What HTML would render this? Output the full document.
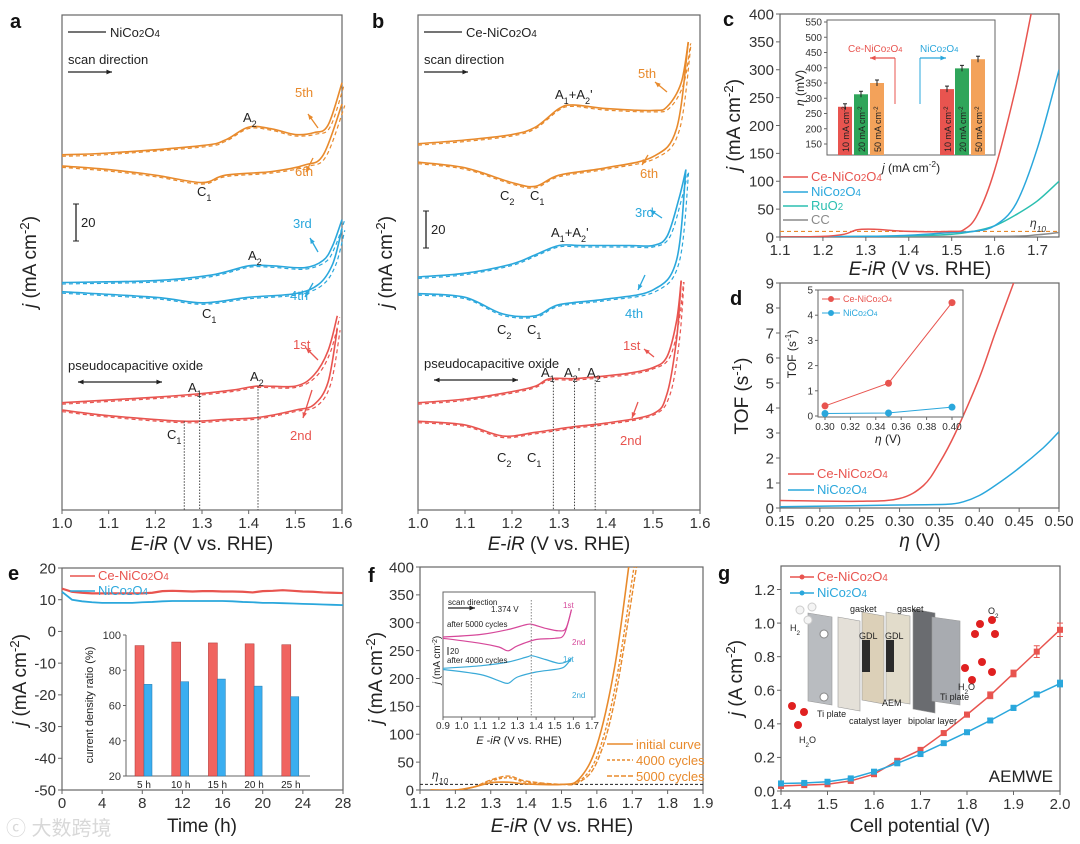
<!DOCTYPE html>
<html><head><meta charset="utf-8"><style>
html,body{margin:0;padding:0;background:#fff;}
svg{display:block;font-family:"Liberation Sans","Noto Sans CJK SC",sans-serif;}
</style></head><body>
<svg id="fig" width="1080" height="844" viewBox="0 0 1080 844" xmlns="http://www.w3.org/2000/svg"></svg>
<script>
// ---------- DATA ----------
const aOrFx=[1.0,1.1,1.3,1.35,1.4,1.45,1.5,1.54,1.57,1.6], aOrFy=[192,193,197,200,207,206,203,204,208,231];
const aOrRx=[1.0,1.1,1.2,1.3,1.35,1.45,1.52,1.56,1.6], aOrRy=[186,184,181,177,181,183,186.5,192,219.5];
const aBlFx=[1.0,1.2,1.32,1.4,1.45,1.52,1.56,1.58,1.6], aBlFy=[123,124,127,132,132,131,135,143,157];
const aBlRx=[1.0,1.2,1.3,1.4,1.5,1.55,1.58,1.6], aBlRy=[118,115,112,115,117,122,133,152];
const aRdFx=[1.0,1.2,1.3,1.37,1.42,1.5,1.54,1.57,1.59], aRdFy=[58,61,63,65,67,67,73,86,105];
const aRdRx=[1.0,1.1,1.26,1.35,1.42,1.5,1.54,1.57,1.59], aRdRy=[54,51,48,49,50,54,57,69,98];
const bOrFx=[1.0,1.1,1.2,1.25,1.3,1.33,1.4,1.5,1.53,1.56,1.575], bOrFy=[198,200,203,207,217,219,217,216,218,231,253];
const bOrRx=[1.0,1.1,1.2,1.25,1.3,1.4,1.5,1.55,1.575], bOrRy=[188,185,177,175,181,185,191,206,253];
const bBlFx=[1.0,1.1,1.2,1.25,1.3,1.35,1.45,1.5,1.53,1.555,1.57], bBlFy=[126,128,133,138,143,143,143,143,148,168,184];
const bBlRx=[1.0,1.1,1.18,1.25,1.3,1.4,1.5,1.55,1.57], bBlRy=[117,115,106,105,111,114,119,135,184];
const bRdFx=[1.0,1.1,1.2,1.25,1.28,1.33,1.38,1.45,1.5,1.53,1.55,1.56], bRdFy=[58,60,64,67,71,71,72,74,77,83,102,124];
const bRdRx=[1.0,1.1,1.18,1.25,1.33,1.4,1.5,1.53,1.55,1.56], bRdRy=[48,46,40,42,45,47,52,63,92,124];
const cCeX=[1.1,1.2,1.25,1.28,1.32,1.4,1.5,1.53,1.56,1.6,1.65,1.685], cCeY=[0,1,5,13,14,10,10,14,40,120,270,400];
const cNiX=[1.1,1.3,1.4,1.5,1.55,1.6,1.65,1.7,1.75], cNiY=[0,1,3,8,10,20,60,160,300];
const cRuX=[1.1,1.4,1.5,1.55,1.6,1.65,1.7,1.75], cRuY=[0,2,5,10,20,40,65,100];
const cCCX=[1.1,1.6,1.7,1.75], cCCY=[0,1,4,8];
const cEta10=10;
const cBarCe=[272,313,350], cBarNi=[330,398,428];
const cBarLabels=["10 mA cm-2","20 mA cm-2","50 mA cm-2"];
const dCeX=[0.15,0.25,0.3,0.33,0.35,0.37,0.4,0.42,0.443], dCeY=[0.3,0.27,0.38,0.9,1.8,3.0,5.2,7.0,9];
const dNiX=[0.15,0.3,0.36,0.38,0.4,0.42,0.45,0.48,0.5], dNiY=[0.05,0.12,0.15,0.25,0.5,0.9,1.6,2.4,3.05];
const dInX=[0.30,0.35,0.40], dInCe=[0.4,1.3,4.5], dInNi=[0.1,0.12,0.35];
const eRed=[13.5,12.5,12.2,12,12,12,12,12,12,12.2,12.7,12.8,12.7,12.6,12.7,12.7,12.6,12.6,12.5,12.3,12.7,12.8,13,12.8,12.6,12.5,12.3,12.2,12.1];
const eBlue=[12.5,10,9.5,9.2,9,9,9,9,9.2,9.3,9.5,9.6,9.6,9.6,9.6,9.6,9.6,9.5,9.3,9.2,9,9,8.9,8.8,8.7,8.6,8.5,8.4,8.3];
const eCats=["5 h","10 h","15 h","20 h","25 h"];
const eRatioCe=[94,96,95.5,95,94.5], eRatioNi=[72,73.5,75,71,65];
const fInitX=[1.13,1.2,1.25,1.3,1.35,1.4,1.5,1.55,1.6,1.65,1.69], fInitY=[0,0,5,13,14,11,10,20,80,220,400];
const f4kX=[1.13,1.2,1.25,1.3,1.35,1.4,1.5,1.55,1.6,1.65,1.705], f4kY=[0,0,5,16,22,14,10,16,60,180,400];
const f5kX=[1.13,1.2,1.25,1.3,1.35,1.4,1.5,1.55,1.6,1.65,1.712], f5kY=[0,0,5,18,25,16,10,14,50,160,400];
const fInX=[0.9,1.1,1.25,1.35,1.38,1.45,1.52,1.56,1.59];
const fPkF=[64,66,70,74,74,71,69,71,86], fBlF=[39,41,44,48,49,46,43,44,47];
const fInRX=[0.9,1.1,1.2,1.25,1.3,1.4,1.5,1.55,1.59];
const fPkR=[63,59,56,53,57,62,63,66,86], fBlR=[38,34,29,27,32,36,38,40,47];
const gX=[1.4,1.45,1.5,1.55,1.6,1.65,1.7,1.75,1.8,1.85,1.9,1.95,2.0];
const gCe=[0.03,0.035,0.04,0.06,0.10,0.18,0.245,0.345,0.455,0.57,0.70,0.83,0.96];
const gNi=[0.045,0.048,0.055,0.075,0.115,0.165,0.22,0.285,0.35,0.42,0.495,0.575,0.64];
const gCeErr=[0.005,0.005,0.005,0.008,0.01,0.01,0.012,0.012,0.015,0.02,0.02,0.035,0.04];
const gNiErr=[0.005,0.005,0.005,0.006,0.008,0.008,0.01,0.01,0.01,0.012,0.015,0.015,0.02];

// ---------- HELPERS ----------
const NS="http://www.w3.org/2000/svg";
const svg=document.getElementById('fig');
const RED="#e8544f", BLUE="#2aa7dc", ORG="#e88a2c", TEAL="#2bbfb0", GRY="#8a8a8a";
function mk(tag,attrs,parent){const e=document.createElementNS(NS,tag);for(const k in attrs)e.setAttribute(k,attrs[k]);(parent||svg).appendChild(e);return e;}
function T(parent,x,y,html,size,color,anchor,extra){const t=mk('text',Object.assign({x:x,y:y,'font-size':size||13,fill:color||'#222','text-anchor':anchor||'start'},extra||{}),parent);t.innerHTML=html;return t;}
function smooth(pts){if(pts.length<2)return'';let d='M'+pts[0][0].toFixed(1)+','+pts[0][1].toFixed(1);
 for(let i=0;i<pts.length-1;i++){const p0=pts[i-1]||pts[i],p1=pts[i],p2=pts[i+1],p3=pts[i+2]||p2;
 const c1=[p1[0]+(p2[0]-p0[0])/6,p1[1]+(p2[1]-p0[1])/6],c2=[p2[0]-(p3[0]-p1[0])/6,p2[1]-(p3[1]-p1[1])/6];
 d+='C'+c1[0].toFixed(1)+','+c1[1].toFixed(1)+' '+c2[0].toFixed(1)+','+c2[1].toFixed(1)+' '+p2[0].toFixed(1)+','+p2[1].toFixed(1);}return d;}
function lin(d0,d1,r0,r1){return v=>r0+(v-d0)/(d1-d0)*(r1-r0);}
function axes(g,o){
 const sx=lin(o.xd[0],o.xd[1],o.l,o.r), sy=lin(o.yd[0],o.yd[1],o.b,o.t);
 const fs=o.fs||15;
 const bx=mk('rect',{x:o.l,y:o.t,width:o.r-o.l,height:o.b-o.t,fill:'none',stroke:'#666','stroke-width':1.2},g);
 
 (o.xt||[]).forEach(v=>{const x=sx(v);mk('line',{x1:x,x2:x,y1:o.b,y2:o.b+4,stroke:'#666'},g);
   const t=T(g,x,o.b+fs+3,o.xfmt?o.xfmt(v):v,fs,'#333','middle');});
 (o.yt||[]).forEach(v=>{const y=sy(v);mk('line',{x1:o.l,x2:o.l-4,y1:y,y2:y,stroke:'#666'},g);
   const t=T(g,o.l-6,y+fs*0.35,o.yfmt?o.yfmt(v):v,fs,'#333','end');});
 return {sx,sy};}
function curve(g,sc,xs,ys,color,w,dash){const p=mk('path',{d:smooth(xs.map((x,i)=>[sc.sx(x),sc.sy(ys[i])])),fill:'none',stroke:color,'stroke-width':w||1.5},g);if(dash)p.setAttribute('stroke-dasharray',dash);return p;}
function shifted(ys,dy){return ys.map(v=>v+dy);}
function grp(name){const g=mk('g',{});return g;}
const chem=s=>s.replace(/(\d)/g,'<tspan font-size="75%">$1</tspan>');
const sup=s=>'<tspan baseline-shift="super" font-size="70%">'+s+'</tspan>';
const sub=s=>'<tspan baseline-shift="sub" font-size="70%">'+s+'</tspan>';
const EIR='<tspan font-style="italic">E</tspan>-<tspan font-style="italic">iR</tspan> (V vs. RHE)';
const JAX='<tspan font-style="italic">j</tspan> (mA cm'+sup('-2')+')';
function ylab(g,x,y,html,size){const t=T(g,x,y,html,size||19,'#222','middle',{transform:'rotate(-90 '+x+' '+y+')'});return t;}
function xlab(g,x,y,html,size){const t=T(g,x,y,html,size||19,'#222','middle');return t;}
function plabel(x,y,s){const t=T(svg,x,y,s,20,'#111','start',{'font-weight':'bold'});}
function arrowLine(g,x1,y1,x2,y2,c,both){mk('line',{x1,y1,x2,y2,stroke:c,'stroke-width':1.3},g);
 const head=(xa,ya,xb,yb)=>{const a=Math.atan2(yb-ya,xb-xa),L=6;mk('path',{d:`M${xb},${yb}L${xb-L*Math.cos(a-0.4)},${yb-L*Math.sin(a-0.4)}L${xb-L*Math.cos(a+0.4)},${yb-L*Math.sin(a+0.4)}Z`,fill:c},g);};
 head(x1,y1,x2,y2);if(both)head(x2,y2,x1,y1);}

// ---------- PANEL A & B ----------
function cvPanel(name,L,R,sets,info){
 const g=grp(name);
 const sc=axes(g,{l:L,r:R,t:15,b:510,xd:[1.0,1.6],yd:[0,267.6],xt:[1.0,1.1,1.2,1.3,1.4,1.5,1.6],xfmt:v=>v.toFixed(1)});
 sets.forEach(s=>{const c1=curve(g,sc,s.fx,s.fy,s.c,1.6);
   const c2=curve(g,sc,s.rx,s.ry,s.c,1.6);
   const d1=curve(g,sc,s.fx.map((x,i)=>i>=s.fx.length-3?x+0.005:x),shifted(s.fy,-0.8),s.c,1.2,'4,3');
   const d2=curve(g,sc,s.rx.map((x,i)=>i>=s.rx.length-3?x+0.006:x),shifted(s.ry,-0.8),s.c,1.2,'4,3');});
 xlab(g,(L+R)/2,550,EIR,19);ylab(g,L-26,262,JAX,19);
 mk('line',{x1:L+6,x2:L+44,y1:32,y2:32,stroke:'#222','stroke-width':1.3},g);
 const lg=T(g,L+48,37,chem(info.title),13,'#222');
 const sd=T(g,L+6,64,'scan direction',13,'#222');
 arrowLine(g,L+6,72,L+50,72,'#222');
 const sbx=info.sb;mk('line',{x1:sbx,x2:sbx,y1:info.sbt,y2:info.sbt+37,stroke:'#222','stroke-width':1.3},g);
 mk('line',{x1:sbx-3,x2:sbx+3,y1:info.sbt,y2:info.sbt,stroke:'#222'},g);mk('line',{x1:sbx-3,x2:sbx+3,y1:info.sbt+37,y2:info.sbt+37,stroke:'#222'},g);
 const sbl=T(g,sbx+5,info.sbt+23,'20',13,'#222');
 const pc=T(g,L+6,info.pcy,'pseudocapacitive oxide',13,'#222');
 arrowLine(g,L+16,info.pcy+12,L+100,info.pcy+12,'#222',true);
 info.labels.forEach(l=>{const t=T(g,l[0],l[1],l[2],13,l[3]||'#222');});
 info.arrows.forEach(a=>arrowLine(g,a[0],a[1],a[2],a[3],a[4]));
 info.vlines.forEach(v=>{mk('line',{x1:sc.sx(v[0]),x2:sc.sx(v[0]),y1:sc.sy(v[1]),y2:510,stroke:'#444','stroke-width':1,'stroke-dasharray':'1.5,1.5'},g);});
}
const A1s='A'+sub('1'),A2s='A'+sub('2'),C1s='C'+sub('1'),C2s='C'+sub('2');
cvPanel('panel-a-cv-nico2o4',62,342,[
 {n:'cycle-5-6',c:ORG,fx:aOrFx,fy:aOrFy,rx:aOrRx,ry:aOrRy},
 {n:'cycle-3-4',c:BLUE,fx:aBlFx,fy:aBlFy,rx:aBlRx,ry:aBlRy},
 {n:'cycle-1-2',c:RED,fx:aRdFx,fy:aRdFy,rx:aRdRx,ry:aRdRy}],
 {title:'NiCo2O4',sb:76,sbt:204,pcy:370,
  labels:[[295,97,'5th',ORG],[295,176,'6th',ORG],[293,228,'3rd',BLUE],[290,300,'4th',BLUE],[293,349,'1st',RED],[290,440,'2nd',RED],
   [243,122,A2s],[197,196,C1s],[248,260,A2s],[202,318,C1s],[188,392,A1s],[250,381,A2s],[167,439,C1s]],
  arrows:[[318,128,308,114,ORG],[313,158,306,172,ORG],[318,252,310,238,BLUE],[313,283,305,297,BLUE],[318,360,306,348,RED],[312,390,303,418,RED]],
  vlines:[[1.262,48],[1.295,63],[1.42,67]]});
cvPanel('panel-b-cv-ce-nico2o4',418,700,[
 {n:'cycle-5-6',c:ORG,fx:bOrFx,fy:bOrFy,rx:bOrRx,ry:bOrRy},
 {n:'cycle-3-4',c:BLUE,fx:bBlFx,fy:bBlFy,rx:bBlRx,ry:bBlRy},
 {n:'cycle-1-2',c:RED,fx:bRdFx,fy:bRdFy,rx:bRdRx,ry:bRdRy}],
 {title:'Ce-NiCo2O4',sb:426,sbt:211,pcy:368,
  labels:[[638,78,'5th',ORG],[640,178,'6th',ORG],[635,217,'3rd',BLUE],[625,318,'4th',BLUE],[623,350,'1st',RED],[620,445,'2nd',RED],
   [555,99,A1s+'+'+A2s+"'"],[500,200,C2s],[530,200,C1s],[551,237,A1s+'+'+A2s+"'"],[497,334,C2s],[527,334,C1s],
   [541,377,A1s],[564,377,A2s+"'"],[587,377,A2s],[497,462,C2s],[527,462,C1s]],
  arrows:[[667,92,655,82,ORG],[648,155,642,165,ORG],[662,218,650,210,BLUE],[645,275,638,290,BLUE],[654,357,644,349,RED],[638,402,632,418,RED]],
  vlines:[[1.288,71],[1.333,71],[1.377,72]]});

// ---------- PANEL C ----------
(function(){
 const g=grp('panel-c-lsv');
 const sc=axes(g,{l:780,r:1059,t:14,b:237,xd:[1.1,1.75],yd:[0,400],xt:[1.1,1.2,1.3,1.4,1.5,1.6,1.7],yt:[0,50,100,150,200,250,300,350,400],xfmt:v=>v.toFixed(1)});
 const cp=mk('clipPath',{id:'cclipR'},g);mk('rect',{x:780,y:14,width:279,height:223},cp);
 const cg=mk('g',{'clip-path':'url(#cclipR)'},g);
 const e=mk('line',{x1:780,x2:1059,y1:sc.sy(cEta10),y2:sc.sy(cEta10),stroke:ORG,'stroke-dasharray':'4,3','stroke-width':1.2},cg);
 [[cCCX,cCCY,GRY,'cc-curve'],[cRuX,cRuY,TEAL,'ruo2-curve'],[cNiX,cNiY,BLUE,'nico2o4-curve'],[cCeX,cCeY,RED,'ce-nico2o4-curve']].forEach(s=>{const p=curve(cg,sc,s[0],s[1],s[2],1.5);});
 T(g,1030,227,'η'+sub('10'),12,'#333','start',{'font-style':'italic'});
 xlab(g,920,275,EIR,19);ylab(g,740,125,JAX,19);
 [['Ce-NiCo2O4',RED,181],['NiCo2O4',BLUE,196],['RuO2',TEAL,210],['CC',GRY,224]].forEach(l=>{mk('line',{x1:783,x2:808,y1:l[2]-4,y2:l[2]-4,stroke:l[1],'stroke-width':1.5},g);
   const t=T(g,811,l[2],chem(l[0]),13,l[1]);});
 const ig=grp('panel-c-inset-bar-chart');
 const isy=lin(150,550,144,22);
 mk('rect',{x:827,y:20,width:168,height:135,fill:'#fff',stroke:'#666'},ig);
 [150,200,250,300,350,400,450,500,550].forEach(v=>{mk('line',{x1:827,x2:824,y1:isy(v),y2:isy(v),stroke:'#666'},ig);const t=T(ig,822,isy(v)+3.5,v,10,'#333','end');});
 const cols=[RED,'#2fa55a','#f3a25a'];
 const cx=[845,861,877], nx=[947,962,978];
 function bars(vals,xs,nm){vals.forEach((v,i)=>{const b=mk('rect',{x:xs[i]-7,y:isy(v),width:14,height:155-isy(v),fill:cols[i]},ig);
   mk('line',{x1:xs[i],x2:xs[i],y1:isy(v)-3,y2:isy(v)+3,stroke:'#222'},ig);mk('line',{x1:xs[i]-2,x2:xs[i]+2,y1:isy(v)-3,y2:isy(v)-3,stroke:'#222'},ig);
   T(ig,xs[i]+4,152,cBarLabels[i].replace('-2',sup('-2')),9,'#222','start',{transform:'rotate(-90 '+(xs[i]+4)+' 152)'});});}
 bars(cBarCe,cx,'ce-nico2o4');bars(cBarNi,nx,'nico2o4');
 T(ig,848,52,chem('Ce-NiCo2O4'),10,RED);T(ig,920,52,chem('NiCo2O4'),10,BLUE);
 arrowLine(ig,895,58,870,58,RED);mk('line',{x1:895,x2:895,y1:58,y2:104,stroke:RED},ig);
 arrowLine(ig,920,58,946,58,BLUE);mk('line',{x1:920,x2:920,y1:58,y2:104,stroke:BLUE},ig);
 ylab(ig,804,88,'<tspan font-style="italic">η</tspan> (mV)',12);
 T(ig,911,172,'<tspan font-style="italic">j</tspan> (mA cm'+sup('-2')+')',12,'#222','middle');
})();

// ---------- PANEL D ----------
(function(){
 const g=grp('panel-d-tof');
 const sc=axes(g,{l:780,r:1059,t:283,b:508,xd:[0.15,0.50],yd:[0,9],xt:[0.15,0.2,0.25,0.3,0.35,0.4,0.45,0.5],yt:[0,1,2,3,4,5,6,7,8,9],xfmt:v=>v.toFixed(2)});
 const cp=mk('clipPath',{id:'dclip'},g);mk('rect',{x:780,y:283,width:279,height:225},cp);
 const cg=mk('g',{'clip-path':'url(#dclip)'},g);
 const p1=curve(cg,sc,dCeX,dCeY,RED,1.5);
 const p2=curve(cg,sc,dNiX,dNiY,BLUE,1.5);
 xlab(g,920,547,'<tspan font-style="italic">η</tspan> (V)',19);ylab(g,748,396,'TOF (s'+sup('-1')+')',19);
 [['Ce-NiCo2O4',RED,478],['NiCo2O4',BLUE,494]].forEach(l=>{mk('line',{x1:788,x2:814,y1:l[2]-4,y2:l[2]-4,stroke:l[1],'stroke-width':1.5},g);const t=T(g,817,l[2],chem(l[0]),13,l[1]);});
 const ig=grp('panel-d-inset');
 const isx=lin(0.30,0.40,825,952), isy=lin(0,5,416,290);
 mk('rect',{x:818,y:290,width:145,height:127,fill:'#fff',stroke:'#666'},ig);
 [0,1,2,3,4,5].forEach(v=>{mk('line',{x1:818,x2:815,y1:isy(v),y2:isy(v),stroke:'#666'},ig);T(ig,813,isy(v)+3.5,v,10,'#333','end');});
 [0.30,0.32,0.34,0.36,0.38,0.40].forEach(v=>{mk('line',{x1:isx(v),x2:isx(v),y1:417,y2:420,stroke:'#666'},ig);T(ig,isx(v),430,v.toFixed(2),10,'#333','middle');});
 T(ig,888,443,'<tspan font-style="italic">η</tspan> (V)',12,'#222','middle');ylab(ig,796,354,'TOF (s'+sup('-1')+')',12);
 [[dInCe,RED,'ce'],[dInNi,BLUE,'ni']].forEach(s=>{mk('polyline',{points:dInX.map((x,i)=>isx(x)+','+isy(s[0][i])).join(' '),fill:'none',stroke:s[1],'stroke-width':1},ig);
   dInX.forEach((x,i)=>{const c=mk('circle',{cx:isx(x),cy:isy(s[0][i]),r:3.5,fill:s[1]},ig);});});
 [['Ce-NiCo2O4',RED,302],['NiCo2O4',BLUE,316]].forEach(l=>{mk('line',{x1:822,x2:840,y1:l[2]-3,y2:l[2]-3,stroke:l[1]},ig);mk('circle',{cx:831,cy:l[2]-3,r:3,fill:l[1]},ig);T(ig,843,l[2],chem(l[0]),9,l[1]);});
})();

// ---------- PANEL E ----------
(function(){
 const g=grp('panel-e-stability');
 const sc=axes(g,{l:62,r:343,t:568,b:790,xd:[0,28],yd:[-50,20],xt:[0,4,8,12,16,20,24,28],yt:[-50,-40,-30,-20,-10,0,10,20]});
 const tx=eRed.map((v,i)=>i);
 const pr=mk('polyline',{points:tx.map((t,i)=>sc.sx(t)+','+sc.sy(eRed[i])).join(' '),fill:'none',stroke:RED,'stroke-width':2.2},g);
 const pb=mk('polyline',{points:tx.map((t,i)=>sc.sx(t)+','+sc.sy(eBlue[i])).join(' '),fill:'none',stroke:BLUE,'stroke-width':1.8},g);
 xlab(g,202,832,'Time (h)',19);ylab(g,26,680,JAX,19);
 [['Ce-NiCo2O4',RED,580],['NiCo2O4',BLUE,595]].forEach(l=>{mk('line',{x1:70,x2:95,y1:l[2]-4,y2:l[2]-4,stroke:l[1],'stroke-width':1.5},g);const t=T(g,98,l[2],chem(l[0]),13,l[1]);});
 const ig=grp('panel-e-inset-ratio');
 const isy=lin(20,100,776,635);
 mk('line',{x1:126,x2:126,y1:635,y2:776,stroke:'#666'},ig);mk('line',{x1:126,x2:310,y1:776,y2:776,stroke:'#666'},ig);
 [20,40,60,80,100].forEach(v=>{mk('line',{x1:126,x2:123,y1:isy(v),y2:isy(v),stroke:'#666'},ig);T(ig,121,isy(v)+4,v,11,'#333','end');});
 eCats.forEach((c,i)=>{const gx=144+i*36.7;
  const r=mk('rect',{x:gx-9,y:isy(eRatioCe[i]),width:9,height:776-isy(eRatioCe[i]),fill:'#f06460',stroke:'#a33','stroke-width':0.5},ig);
  const b=mk('rect',{x:gx,y:isy(eRatioNi[i]),width:8,height:776-isy(eRatioNi[i]),fill:'#3aaef0',stroke:'#27a','stroke-width':0.5},ig);
  T(ig,gx,788,c,10,'#222','middle');});
 ylab(ig,93,705,'current density ratio (%)',11);
 const wm=T(svg,6,835,'ⓒ 大数跨境',20,'#d8d8d8');
})();

// ---------- PANEL F ----------
(function(){
 const g=grp('panel-f-durability');
 const sc=axes(g,{l:420,r:703,t:567,b:790,xd:[1.1,1.9],yd:[0,400],xt:[1.1,1.2,1.3,1.4,1.5,1.6,1.7,1.8,1.9],yt:[0,50,100,150,200,250,300,350,400],xfmt:v=>v.toFixed(1)});
 const cp=mk('clipPath',{id:'fclip'},g);mk('rect',{x:420,y:567,width:283,height:223},cp);
 const cg=mk('g',{'clip-path':'url(#fclip)'},g);
 const e=mk('line',{x1:420,x2:703,y1:sc.sy(10),y2:sc.sy(10),stroke:'#222','stroke-dasharray':'3,2'},cg);
 const c1=curve(cg,sc,fInitX,fInitY,ORG,1.6);
 const c2=curve(cg,sc,f4kX,f4kY,ORG,1.4,'3,2');
 const c3=curve(cg,sc,f5kX,f5kY,ORG,1.4,'5,2');
 T(g,432,779,'η'+sub('10'),12,'#333','start',{'font-style':'italic'});
 xlab(g,562,832,EIR,19);ylab(g,382,678,JAX,19);
 [['initial curve',749,null],['4000 cycles',765,'3,2'],['5000 cycles',781,'5,2']].forEach(l=>{const ln=mk('line',{x1:607,x2:633,y1:l[1]-5,y2:l[1]-5,stroke:ORG,'stroke-width':1.5},g);if(l[2])ln.setAttribute('stroke-dasharray',l[2]);
   const t=T(g,636,l[1],l[0],13,ORG);});
 const ig=grp('panel-f-inset-cv');
 const isx=lin(0.9,1.7,443,592), isy=lin(0,100,717,592);
 const isc={sx:isx,sy:isy};
 mk('rect',{x:443,y:592,width:152,height:125,fill:'#fff',stroke:'#666'},ig);
 [0.9,1.0,1.1,1.2,1.3,1.4,1.5,1.6,1.7].forEach(v=>{mk('line',{x1:isx(v),x2:isx(v),y1:717,y2:720,stroke:'#666'},ig);T(ig,isx(v),729,v.toFixed(1),10,'#333','middle');});
 T(ig,519,744,'<tspan font-style="italic">E</tspan> -<tspan font-style="italic">iR</tspan> (V vs. RHE)',11,'#222','middle');
 ylab(ig,440,660,'<tspan font-style="italic">j</tspan> (mA cm'+sup('-2')+')',10);
 curve(ig,isc,fInX,fPkF,'#d6489a',1.2);curve(ig,isc,fInRX,fPkR,'#d6489a',1.2);
 curve(ig,isc,fInX,fBlF,'#3aaad8',1.2);curve(ig,isc,fInRX,fBlR,'#3aaad8',1.2);
 mk('line',{x1:isx(1.374),x2:isx(1.374),y1:600,y2:717,stroke:'#888','stroke-dasharray':'1.5,1.5'},ig);
 T(ig,448,605,'scan direction',8,'#222');arrowLine(ig,448,608,475,608,'#222');
 T(ig,491,612,'1.374 V',8,'#222');
 T(ig,447,627,'after 5000 cycles',8,'#222');T(ig,447,663,'after 4000 cycles',8,'#222');
 mk('line',{x1:448,x2:448,y1:647,y2:655,stroke:'#222'},ig);T(ig,450,654,'20',8,'#222');
 T(ig,563,608,'1st',8,'#d6489a');T(ig,572,645,'2nd',8,'#d6489a');T(ig,563,662,'1st',8,'#3aaad8');T(ig,572,698,'2nd',8,'#3aaad8');
})();

// ---------- PANEL G ----------
(function(){
 const g=grp('panel-g-aemwe');
 const sc=axes(g,{l:781,r:1060,t:566,b:791,xd:[1.4,2.0],yd:[0,1.34],xt:[1.4,1.5,1.6,1.7,1.8,1.9,2.0],yt:[0,0.2,0.4,0.6,0.8,1.0,1.2],xfmt:v=>v.toFixed(1),yfmt:v=>v.toFixed(1)});
 xlab(g,920,832,'Cell potential (V)',19);ylab(g,742,678,'<tspan font-style="italic">j</tspan> (A cm'+sup('-2')+')',19);
 const sg=grp('aemwe-cell-schematic');
 const plate=(x,y,w,h,f,s)=>mk('polygon',{points:`${x},${y} ${x+w},${y+4} ${x+w},${y+h+4} ${x},${y+h}`,fill:f,stroke:s||'#999','stroke-width':0.6},sg);
 plate(808,613,24,88,'#b9bcc0');plate(838,617,22,90,'#e4e0d8');plate(862,612,22,88,'#dcd0b8');plate(886,612,24,88,'#e2dccb');
 mk('rect',{x:862,y:640,width:8,height:32,fill:'#2a2a2a'},sg);mk('rect',{x:886,y:640,width:8,height:32,fill:'#2a2a2a'},sg);
 plate(913,609,22,100,'#6a6c70');plate(932,617,28,84,'#a8abb0');
 mk('circle',{cx:824,cy:634,r:4,fill:'#fff',stroke:'#888'},sg);mk('circle',{cx:824,cy:697,r:4,fill:'#fff',stroke:'#888'},sg);
 [[800,610],[812,607],[808,620]].forEach(p=>mk('circle',{cx:p[0],cy:p[1],r:4,fill:'#f4f4f4',stroke:'#ccc'},sg));
 [[980,624],[992,620],[975,634],[995,634],[965,668],[982,662],[972,680],[992,672],[792,706],[804,712],[798,725]].forEach(p=>mk('circle',{cx:p[0],cy:p[1],r:4,fill:'#e02020'},sg));
 [['gasket',850,612],['gasket',897,612],['GDL',859,639],['GDL',885,639],['H'+sub('2'),790,631],['O'+sub('2'),988,614],['H'+sub('2')+'O',958,690],['Ti plate',817,717],['Ti plate',940,700],['AEM',882,706],['catalyst layer',849,724],['bipolar layer',908,724],['H'+sub('2')+'O',799,743]].forEach(l=>T(sg,l[1],l[2],l[0],9,'#222'));
 [[gCe,gCeErr,RED,'ce-nico2o4'],[gNi,gNiErr,BLUE,'nico2o4']].forEach(s=>{
  const pl=mk('polyline',{points:gX.map((x,i)=>sc.sx(x)+','+sc.sy(s[0][i])).join(' '),fill:'none',stroke:s[2],'stroke-width':1.5},g);
  gX.forEach((x,i)=>{const X=sc.sx(x),Y=sc.sy(s[0][i]),E1=sc.sy(s[0][i]+s[1][i]),E2=sc.sy(s[0][i]-s[1][i]);
   mk('line',{x1:X,x2:X,y1:E1,y2:E2,stroke:s[2]},g);mk('line',{x1:X-3,x2:X+3,y1:E1,y2:E1,stroke:s[2]},g);mk('line',{x1:X-3,x2:X+3,y1:E2,y2:E2,stroke:s[2]},g);
   const m=mk('rect',{x:X-3,y:Y-3,width:6,height:6,fill:s[2]},g);});});
 [['Ce-NiCo2O4',RED,581],['NiCo2O4',BLUE,597]].forEach(l=>{mk('line',{x1:790,x2:814,y1:l[2]-4,y2:l[2]-4,stroke:l[1],'stroke-width':1.5},g);mk('circle',{cx:802,cy:l[2]-4,r:2.5,fill:l[1]},g);const t=T(g,817,l[2],chem(l[0]),13,l[1]);});
 const aw=T(g,1053,782,'AEMWE',17,'#222','end');
})();

plabel(10,28,'a');plabel(372,28,'b');plabel(723,26,'c');plabel(730,305,'d');plabel(8,580,'e');plabel(368,582,'f');plabel(718,580,'g');
</script>
</body></html>
